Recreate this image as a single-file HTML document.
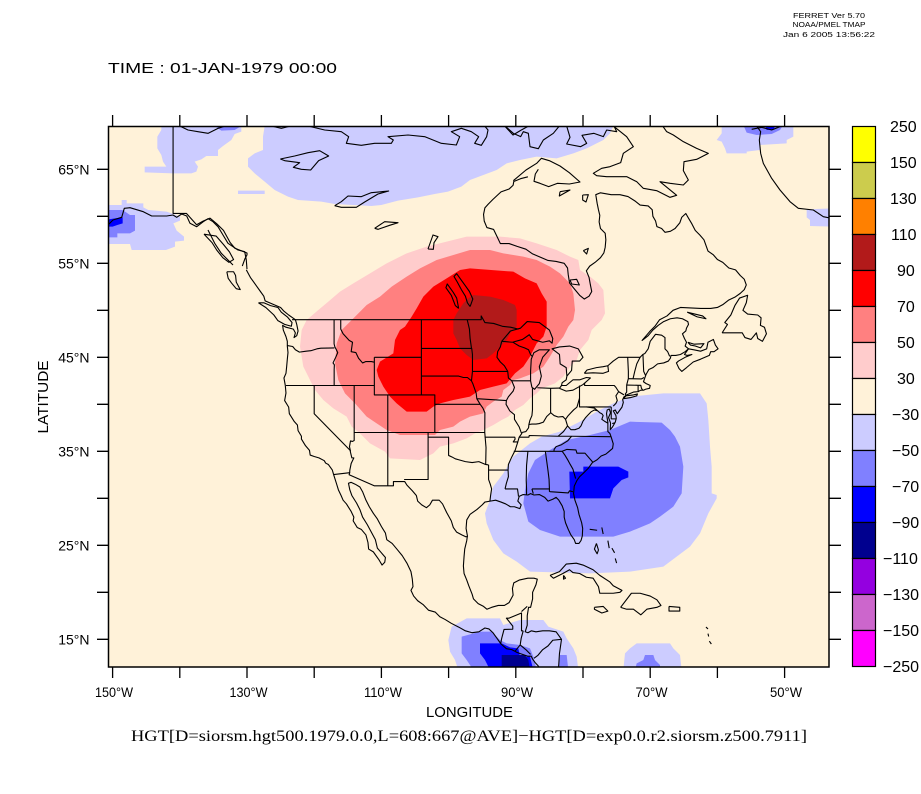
<!DOCTYPE html>
<html><head><meta charset="utf-8"><style>
html,body{margin:0;padding:0;background:#fff;}
svg{display:block;}
.t{font-family:"Liberation Sans",Arial,sans-serif;fill:#000;}
.c{fill:none;stroke:#000;stroke-width:1.1;vector-effect:non-scaling-stroke;stroke-linejoin:round;}
</style></head><body>
<svg width="921" height="794" viewBox="0 0 921 794" xmlns="http://www.w3.org/2000/svg">
<defs><clipPath id="mc"><rect x="108.5" y="126.5" width="720.5" height="540.5"/></clipPath></defs>
<rect width="921" height="794" fill="#fff"/>

<text class="t" x="829" y="18" font-size="7.5" text-anchor="middle" textLength="72" lengthAdjust="spacingAndGlyphs">FERRET Ver  5.70</text>
<text class="t" x="829" y="27" font-size="7.5" text-anchor="middle" textLength="73" lengthAdjust="spacingAndGlyphs">NOAA/PMEL TMAP</text>
<text class="t" x="829" y="37" font-size="7.5" text-anchor="middle" textLength="92" lengthAdjust="spacingAndGlyphs">Jan  6 2005 13:56:22</text>

<text class="t" x="108" y="73" font-size="15" textLength="229" lengthAdjust="spacingAndGlyphs">TIME : 01-JAN-1979 00:00</text>

<g clip-path="url(#mc)">
<rect x="108" y="126" width="722" height="542" fill="#FFF2D9"/>

<!-- positive anomaly -->
<g transform="translate(280 230) scale(0.333333)">
<polygon fill="#FFCCCC" points="560,20 660,20 720,25 770,40 830,60 870,80 895,90 900,120 930,140 955,160 970,180 975,250 965,270 935,300 925,330 900,360 890,390 870,410 850,440 825,460 785,475 770,490 750,505 730,525 705,540 685,560 665,570 640,585 610,600 585,610 560,625 520,640 480,650 460,670 420,690 330,685 315,665 270,640 240,610 215,590 200,560 160,535 130,510 105,480 90,450 70,410 60,350 65,300 80,270 115,240 145,215 180,185 220,160 270,130 320,100 380,70 440,50 500,35"/>
<polygon fill="#FF8080" points="570,60 630,60 670,70 730,80 770,90 810,110 840,130 870,160 880,190 885,240 880,270 865,290 850,320 830,345 810,380 790,410 760,430 720,445 700,450 690,465 670,480 665,500 640,515 620,530 610,550 570,560 540,575 520,590 480,600 465,615 360,615 320,600 290,580 260,560 225,520 195,490 175,450 165,400 170,340 185,300 205,280 235,250 260,225 300,200 335,170 380,140 420,115 470,90 520,75"/>
<polygon fill="#FF0000" points="540,120 570,115 700,125 735,145 770,160 785,190 800,215 800,290 790,320 770,340 750,380 730,410 705,430 680,460 640,470 600,480 570,500 520,510 480,520 460,530 440,545 380,545 350,520 330,500 310,470 295,440 290,420 300,395 340,370 345,330 360,300 375,290 395,260 410,235 430,200 460,170 500,145"/>
<polygon fill="#B21A1A" points="580,195 630,200 670,210 705,225 710,240 710,290 690,310 680,330 660,350 640,370 620,385 580,390 560,375 540,355 530,330 520,310 520,270 530,250 550,220 565,205"/>
</g>

<!-- SE negative anomaly -->
<g transform="translate(470 380) scale(0.333333)">
<polygon fill="#CCCCFF" points="580,40 690,40 710,70 715,120 720,200 725,260 725,340 740,345 740,355 715,400 690,460 660,500 620,530 580,560 480,575 360,580 180,575 140,545 100,520 70,480 50,430 45,400 60,360 70,320 100,280 130,230 180,190 215,170 270,155 330,125 380,95 430,70 480,50 530,45"/>
<polygon fill="#8080FF" points="480,125 575,128 600,150 615,170 630,200 640,260 635,340 610,380 570,410 540,430 480,455 430,470 270,470 210,450 175,425 160,370 165,330 175,280 195,240 240,210 290,180 360,165 420,150"/>
<polygon fill="#0000FF" points="340,260 445,260 475,275 475,292 455,300 430,325 420,355 300,355 298,275 340,275"/>
</g>

<!-- bottom blobs -->
<g transform="translate(420 560) scale(0.333333)">
<polygon fill="#CCCCFF" points="140,175 240,175 250,195 300,180 370,180 385,200 430,215 440,235 460,265 470,290 475,330 115,330 105,300 90,275 85,240 95,200"/>
<polygon fill="#8080FF" points="125,230 180,215 215,215 240,240 260,250 300,255 330,265 340,290 350,330 160,330 140,300 125,280"/>
<polygon fill="#8080FF" points="420,285 440,285 445,330 415,330"/>
<polygon fill="#0000FF" points="180,250 245,250 270,262 295,265 300,290 330,290 340,330 210,330 195,300 180,280"/>
<polygon fill="#00008F" points="245,285 315,285 325,300 330,330 245,330"/>
<polygon fill="#CCCCFF" points="650,250 750,250 760,265 780,285 785,330 610,330 615,280 630,265"/>
<polygon fill="#8080FF" points="675,285 700,285 705,300 720,315 720,330 645,330 650,310 670,300"/>
</g>

<!-- north blobs -->
<g transform="translate(108 120) scale(0.333333)">
<polygon fill="#CCCCFF" points="160,18 400,18 400,35 380,42 370,60 345,78 330,90 330,108 295,108 280,118 260,125 270,140 265,155 250,160 195,160 110,157 110,140 175,140 165,125 160,105 148,85 148,50 160,30"/>
<polygon fill="#CCCCFF" points="470,18 1516,18 1506,40 1486,60 1436,85 1396,100 1346,115 1286,110 1236,120 1196,130 1166,150 1126,165 1086,180 1060,200 1020,215 980,222 930,232 870,242 820,255 790,258 680,252 640,245 570,240 540,230 500,210 470,185 440,160 420,140 420,115 440,100 465,90 465,50"/>
<polygon fill="#CCCCFF" points="390,212 470,212 470,222 390,222"/>
<polygon fill="#8080FF" points="320,18 400,18 380,30 340,32"/>
</g>
<g transform="translate(30 110) scale(0.333333)">
<polygon fill="#CCCCFF" points="225,285 275,285 275,270 290,270 290,280 340,280 340,292 355,300 410,305 450,320 450,332 430,340 440,362 462,380 462,392 435,395 435,410 408,420 305,420 300,402 225,402"/>
<polygon fill="#8080FF" points="225,300 278,300 300,315 315,315 315,362 300,370 262,370 262,382 225,382"/>
<polygon fill="#0000FF" points="225,330 255,325 278,322 278,340 262,345 248,350 225,350"/>
</g>
<g transform="translate(470 120) scale(0.333333)">
<polygon fill="#CCCCFF" points="755,15 970,15 970,50 950,60 950,70 870,75 870,90 830,95 830,100 770,100 765,85 755,65 740,60 755,40"/>
<polygon fill="#8080FF" points="820,15 940,15 930,30 905,42 860,45 830,38"/>
<polygon fill="#0000FF" points="885,15 915,15 912,28 890,30"/>
<polygon fill="#CCCCFF" points="1010,268 1090,265 1090,320 1020,318 1020,300 1010,292"/>
</g>

<!-- coastlines in pixel coords -->
<polyline class="c" points="108,225 113,220 121.7,217.3 124.3,208.3 130,207.7 143.3,211.7 151.7,216 166.7,216 173,215 176.7,217.3 181.7,214 186.7,216 190,223.3 196.7,226.7 203.3,221.7 208,218.7 213,221.7 218,226.7 223,235 228,243.3 233,246.7 238,250 244.7,251.7 246.3,260 247,269.2"/>
<polyline class="c" points="208,230 214.7,243.3 221.3,253.3 233,265"/>
<g transform="translate(108 120) scale(0.333333)">
<polyline class="c" points="215,18 240,30 270,35 300,40 330,25 352,18"/>
<polyline class="c" points="490,18 520,25 548,18"/>
<polyline class="c" points="600,18 650,30 700,35 722,50 715,70 760,76 800,70 850,70 856,60 840,50 900,45 950,50 1000,70 1045,75 1055,50 1030,35 1060,25 1090,35 1112,50 1100,70 1120,76 1136,50 1140,30 1130,18"/>
<polyline class="c" points="1190,18 1215,45 1240,30 1262,18"/>
<polyline class="c" points="517,117 560,108 600,98 635,92 662,108 632,122 608,150 580,148 556,142 575,128 530,122 517,117"/>
<polyline class="c" points="680,257 700,245 720,228 760,230 790,218 842,213 810,222 770,246 745,262 700,262 680,257"/>
<polyline class="c" points="800,325 830,305 870,308 845,316 810,328 800,325"/>
<polyline class="c" points="960,387 975,345 990,350 978,368 976,388 960,387"/>
</g>
<g transform="translate(470 120) scale(0.333333)">
<polyline class="c" points="430,18 470,50 490,80 460,100 452,128 420,140 395,145 370,160 380,167 410,170 470,170 500,185 520,205 560,212 600,232 620,226 570,185 600,190 640,195 655,180 640,152 642,125 680,118 715,100 680,85 640,65 610,45 590,35 578,18"/>
<polyline class="c" points="105,18 130,40 152,50 160,35 175,40 180,80 205,86 220,60 250,40 268,18"/>
<polyline class="c" points="290,18 300,52 290,72 332,80 350,70 336,46 372,40 400,50 410,30 440,35 432,18"/>
<polyline class="c" points="130,182 168,150 200,130 214,115 238,122 270,138 298,158 330,186 298,192 262,190 236,200 210,190 192,184 196,162 205,148"/>
<polyline class="c" points="270,215 300,210 268,228 270,215"/>
<polyline class="c" points="338,225 355,224 348,246 338,240 338,225"/>
<polyline class="c" points="340,392 355,385 350,402 340,392"/>
<polyline class="c" points="300,480 320,478 328,495 305,492 300,480"/>
<polyline class="c" points="858,15 872,35 868,60 870,80 872,100 880,130 905,175 930,210 960,245 985,265 1030,270 1060,290 1090,296"/>
<polyline class="c" points="845,28 875,22 905,30 935,18"/>
</g>

<!-- coastlines / borders in lon,lat -->
<g transform="matrix(6.72 0 0 -9.4 1120.6 780.3)">
<polyline class="c" points="-130.1,54.3 -129.5,53.5 -129,53 -128.5,52.5 -128,52 -127.5,51.5 -127.3,51 -126,50.6 -125,50.3 -124.5,49.9 -123.8,49.5 -123.2,49.2 -122.8,49 -122.6,48.5 -122.4,47.8 -122.6,47.3 -123,47.1 -122.8,47.6 -123.1,48 -124.2,48.2 -124.7,48.4 -124.6,47.9 -124.2,47.2 -124,46.7 -124,46.2 -123.9,45.5 -124,44.8 -124.1,44 -124.2,43.3 -124.5,42.8 -124.3,42 -124.2,41.2 -124.4,40.4 -123.8,39.7 -123.7,39 -123,38.2 -122.5,37.8 -122.4,37.2 -121.9,36.6 -121.9,36.3 -121.3,35.6 -120.7,35.1 -120.6,34.6 -120,34.45 -119.3,34.3 -118.5,34 -118.3,33.75 -117.9,33.6 -117.3,33 -117.1,32.5 -116.7,31.6 -116.4,30.9 -116,30.3 -115.7,29.8 -115.2,29.4 -114.5,28.6 -114.1,28 -114.2,27.6 -113.6,26.9 -113,26.7 -112.3,26.1 -112,25.3 -111.9,24.6 -111.2,24.3 -110.4,23.5 -109.9,22.9 -109.5,23.2 -109.4,23.7 -110,24.2 -110.6,24.7 -110.9,25.6 -111.5,26.4 -112.1,27.2 -112.8,28 -113.2,28.8 -113.7,29.5 -114.4,30.3 -114.7,30.9 -114.9,31.6 -114.5,31.7 -113.9,31.5 -113.2,31.2 -112.8,30.7 -112.3,29.8 -111.8,29.1 -111.2,28.4 -110.6,27.8 -110,27 -109.4,26.3 -109.2,25.6 -108.4,25.2 -107.7,24.6 -106.9,23.9 -106.2,23.1 -105.6,22.2 -105.4,21.4 -105.3,20.6 -105.6,20.2 -105.2,19.6 -104.6,19.1 -103.8,18.7 -103,18.1 -102,17.9 -101.3,17.4 -100.5,17.1 -99.6,16.7 -98.5,16.3 -97.5,15.9 -96.5,15.7 -95.5,15.8 -94.6,16.2 -94,16.1 -93.4,15.7 -92.8,15.1 -92.2,14.5 -91.4,14 -90.6,13.9 -89.8,13.6 -89,13.4 -88.2,13.2 -87.7,13.2 -87.5,12.9 -87.1,12.5 -86.7,12.2 -86.2,11.7"/>
<polyline class="c" points="-83.7,11.5 -83.6,12.4 -83.5,13.5 -83.3,14.5 -83.2,15 -84,15.8 -85,15.9 -86,15.9 -87,15.8 -87.7,15.9 -88.2,15.7 -88.6,15.8 -88.3,16.5 -88.3,17.5 -88.1,18.4 -87.8,18.4 -87.5,19.3 -87.5,20 -87,20.8 -86.8,21.4 -87.3,21.5 -88.2,21.5 -89.5,21.3 -90.3,21 -90.5,20.4 -90.4,19.7 -91,18.9 -91.7,18.6 -92.6,18.6 -93.6,18.4 -94.3,18.2 -94.8,18.5 -95.6,18.8 -96.3,19.3 -96.5,19.8 -97,20.7 -97.3,21.3 -97.7,22 -97.8,22.8 -97.7,23.8 -97.6,24.6 -97.3,25.5 -97.2,26 -97.4,26.8 -97.3,27.7 -96.8,28.3 -95.8,28.8 -95,29.3 -94.6,29.6 -93.8,29.7 -93,29.8 -92.2,29.6 -91.5,29.4 -90.8,29.1 -90.2,29.1 -89.4,28.9 -89.2,29.3 -89.7,29.7 -89.5,30.2 -88.9,30.4 -88.2,30.35 -87.8,30.5 -87.3,30.35 -86.5,30.4 -85.7,30.1 -85.2,29.7 -84.5,29.9 -84,30.1 -83.6,29.8 -83.1,29.2 -82.8,28.6 -82.8,28 -82.6,27.4 -82.2,26.7 -81.8,26.1 -81.3,25.6 -81.1,25.2 -80.6,25.2 -80.3,25.5 -80.1,26 -80.05,26.8 -80.2,27.4 -80.6,28.3 -80.8,29 -81.2,29.8 -81.4,30.5 -81.3,31.3 -80.9,31.9 -80.5,32.3 -79.9,32.7 -79.2,33.2 -78.6,33.8 -77.9,34.1 -77.3,34.5 -76.6,34.7 -76.1,35 -75.6,35.3 -75.5,35.8 -75.8,36.5 -76,36.9 -76.3,37.1 -76.3,37.6 -76.3,38.1 -76.4,38.5 -76.5,39 -76.4,39.4 -76.1,39.5 -75.9,39.1 -76.2,38.6 -75.9,38 -75.95,37.3 -75.6,37.6 -75.2,38.1 -75.05,38.5 -75.1,38.8 -75.5,39.3 -75.2,39.4 -74.9,39 -74.6,39.3 -74.2,39.7 -74,40.2 -74.1,40.5 -73.9,40.8 -73.5,41 -72.5,41.3 -71.8,41.35 -71.4,41.5 -71,41.5 -70.7,41.6 -70.1,41.7 -70,42 -70.3,42.1 -70.6,42.2 -71,42.4 -70.8,42.8 -70.6,43.2 -70.2,43.7 -69.6,43.9 -68.9,44.3 -68,44.4 -67.3,44.6 -67,44.9 -66.9,45.2 -66.2,45.2 -65.5,45.3 -64.8,45.6 -64.3,45.9 -64.8,46.2 -64.6,46.6 -64.9,47 -65.2,47.5 -64.7,47.8 -64.6,48.1 -64.3,48.5 -64.4,48.8 -65.2,49.1 -66,49.2 -67,49.1 -68,48.8 -68.8,48.4 -69.6,47.9 -70.3,47.3 -71,46.9 -71.2,46.8 -70.6,47.3 -70,47.8 -69.3,48.3 -68.6,49 -67.5,49.4 -66.6,50 -65.5,50.3 -64,50.25 -62.5,50.2 -61,50.2 -60,50.3 -59.2,50.6 -58.3,51.1 -57.4,51.4 -56.6,51.8 -56,52.2 -55.7,52.7 -56,53.3 -56.6,53.7 -57.3,54.3 -58.3,54.5 -59.2,55.1 -60,55.4 -60.6,55.9 -61.4,56.3 -61.7,56.9 -62,57.5 -62.6,58 -63.3,58.5 -63.8,59.2 -64.3,59.8 -64.7,60.3 -65.3,59.9 -65.6,59.3 -66.3,58.7 -67,58.4 -67.8,58.3 -68.3,58.7 -69,58.9 -69.2,59.5 -69.6,60 -69.7,60.7 -70.3,61.1 -71.5,61.2 -72.2,61.6 -73.3,62.1 -74.5,62.3 -75.8,62.3 -77.4,62.5 -78.1,62.3 -77.9,61.4 -77.7,60.7 -77.5,60.1 -77.6,59.4 -77.4,58.7 -76.7,58.2 -76.6,57.5 -76.7,56.7 -76.9,56.1 -77.4,55.6 -78.2,55.1 -79,54.7 -79.5,54.2 -79.1,53.5 -78.9,52.7 -78.7,52 -79.1,51.5 -79.8,51.2 -80.5,51.6 -81.2,52.2 -82,52.9 -82.2,53.8 -82.3,54.5 -82.8,55 -84,55.2 -85.2,55.3 -86.5,55.7 -87.5,56 -88.5,56.5 -89.8,56.8 -91,57.1 -92.3,57.1 -92.7,57.7 -93.3,58.6 -94.3,58.8 -94.7,59.5 -94.8,60.2 -94.6,60.9 -94.1,61.3 -93.4,61.8 -92.8,62.2 -92.2,62.6 -91,62.9 -90.4,63.3 -90.3,63.7 -89.3,64 -88.2,64.2"/>
<polyline class="c" points="-128.3,50.8 -127.2,50.3 -126,49.5 -125.4,48.9 -124.4,48.5 -123.4,48.3 -123.3,48.7 -124,49.3 -124.9,49.8 -125.4,50.3 -126.5,50.5 -127.5,50.8 -128.3,50.8"/>
<polyline class="c" points="-133,54.1 -132,54.1 -131.7,53.7 -131.6,53 -131,52.2 -131.6,52.3 -132.3,52.9 -132.8,53.4 -133,54.1"/>
<polyline class="c" points="-136.4,58.1 -135.2,57.2 -134.5,56.4 -133.6,55.6 -132.7,55.1 -132,55.4 -132.6,56.2 -133.5,57 -134.6,57.9 -136.4,58.1"/>
<polyline class="c" points="-59.3,47.6 -58.5,48.5 -58.9,48.7 -58,49.5 -57.4,50.5 -56.7,51.3 -55.5,51.6 -55.7,50.8 -56.2,50 -55.5,49.6 -54,49.5 -53.5,49.2 -53.6,48.4 -53,48.2 -52.7,47.5 -53.3,46.7 -54,47 -54.2,47.6 -55,46.9 -55.9,47.1 -56.3,47.6 -57.5,47.6 -58.4,47.6 -59.3,47.6"/>
<polyline class="c" points="-64.4,46.6 -63.5,46.4 -62,46.45 -62.5,46 -63.3,46.2 -64,46.3 -64.4,46.6"/>
<polyline class="c" points="-64.3,45.9 -64.9,45.3 -64.5,45.2 -63.8,45.3 -64.8,45 -65.8,44.6 -66.1,44.4 -65.7,43.8 -65.3,43.5 -64.6,43.9 -63.6,44.5 -62.5,44.8 -61.2,45.2 -61,45.6 -60.5,45.6 -59.9,45.9 -60.3,46.3 -60.6,46.9 -61.4,46.6 -61.6,45.9 -62.5,45.65 -63.5,45.8 -64.3,45.9"/>
<polyline class="c" points="-64.5,49.8 -62.2,49.4 -61.7,49.1 -63,49.3 -64.5,49.8"/>
<polyline class="c" points="-84.9,21.8 -83.5,22.2 -82.5,23 -81,23.1 -80,22.9 -78.5,22.4 -77.5,21.8 -76,21.1 -75.5,20.7 -74.2,20.2 -74.5,20 -75.5,19.9 -77.5,19.9 -77.7,20.6 -78.5,21.5 -79.5,21.6 -80.5,22 -81.5,22.1 -82,22.4 -83,22 -84.4,21.5 -84.9,21.8"/>
<polyline class="c" points="-82.9,21.8 -82.6,21.5 -82.9,21.4 -82.9,21.8"/>
<polyline class="c" points="-74.4,18.4 -72.8,19.9 -71.5,19.9 -70,19.6 -69,19.2 -68.4,18.6 -69,18.4 -70.5,18.2 -71.4,17.6 -72.5,18.2 -73.5,18.2 -74.4,18.4"/>
<polyline class="c" points="-78.3,18.4 -77,18.5 -76.3,18 -77.2,17.8 -78.3,18.2 -78.3,18.4"/>
<polyline class="c" points="-67.2,18.5 -65.6,18.4 -65.6,18 -67.2,18 -67.2,18.5"/>
<polyline class="c" points="-78,25.2 -77.7,24.5 -77.9,24.1 -78.3,24.6 -78,25.2"/>
<polyline class="c" points="-79,26.7 -77.9,26.6"/>
<polyline class="c" points="-77.2,26.9 -77,26.2"/>
<polyline class="c" points="-76.3,25.5 -76.1,24.7"/>
<polyline class="c" points="-75.7,24.7 -75.3,24.2"/>
<polyline class="c" points="-75.2,23.6 -75,23.1"/>
<polyline class="c" points="-61.7,16.3 -61.4,16.1"/>
<polyline class="c" points="-61.4,15.6 -61.3,15.3"/>
<polyline class="c" points="-61.2,14.8 -60.9,14.5"/>
<!-- Great Lakes -->
<polyline class="c" points="-92.1,46.7 -90.5,46.6 -89,46.9 -88,47.4 -87.5,46.9 -86,46.6 -85,46.75 -84.6,46.5 -84.5,47 -85,47.9 -86.5,48.7 -88.3,48.8 -89.3,48.1 -90.8,47.8 -92.1,46.7"/>
<polyline class="c" points="-87.6,41.8 -87.2,41.6 -86.5,42.2 -86.2,43 -86.5,44 -86,45 -85,45.8 -86.5,45.8 -87.3,45.5 -87.7,44.8 -87.8,43.5 -87.8,42.5 -87.6,41.8"/>
<polyline class="c" points="-82.4,43 -81.7,43.6 -81.6,44.6 -80.5,44.6 -80,45 -80.7,45.9 -82,46.2 -83.5,46.1 -84.6,45.9 -83.5,45.3 -83.4,44.3 -82.5,43.9 -82.4,43"/>
<polyline class="c" points="-83.5,41.7 -82.5,41.4 -81.5,41.5 -80,42.1 -78.9,42.8 -79.5,42.85 -80.5,42.6 -81.5,42.6 -82.5,42 -83.2,42 -83.5,41.7"/>
<polyline class="c" points="-79.8,43.3 -78.5,43.35 -77,43.3 -76.2,43.5 -76.3,44.1 -77,44 -78,43.9 -79.4,43.65 -79.8,43.3"/>
<polyline class="c" points="-82.4,43 -82.5,42.6 -83.1,42.3 -83.2,42"/>
<polyline class="c" points="-96.8,50.4 -96.4,51.2 -96.9,52 -97.5,52.6 -98.2,53.3 -98.8,53.9 -99.2,53.6 -98.7,53 -98.1,52.2 -97.5,51.5 -97.2,50.8 -96.8,50.4"/>
<polyline class="c" points="-98.5,50.2 -98.8,51.3 -99.3,51.9 -100.2,52.8 -100.4,52.4 -99.6,51.6 -99,50.5 -98.5,50.2"/>
<!-- borders -->
<polyline class="c" points="-141,70 -141,60.3 -139,60.3 -137.5,59.1 -136.5,59.5 -135.5,59.8 -134.5,59.2 -133.5,58.5 -132.5,57.2 -131.8,56.6 -130,56.1 -130,55.9 -130.3,55.5 -130.7,54.7"/>
<polyline class="c" points="-123.3,49 -95.15,49 -95.15,49.4 -94.6,48.7 -93.3,48.6 -92,48.3 -90.8,48.2 -89.6,48"/>
<polyline class="c" points="-76.3,44.1 -75.5,44.6 -74.7,45 -71.5,45 -71.1,45.3 -70.8,45.4 -70.3,45.9 -70,46.7 -69.2,47.45 -68.3,47.35 -67.8,47.1 -67.8,45.9 -67.4,45.6 -67.1,45.1"/>
<polyline class="c" points="-124,46.25 -123.2,46.15 -122.8,45.8 -122.2,45.55 -121.2,45.65 -120.5,45.7 -119.6,45.9 -119,45.97 -117,46"/>
<polyline class="c" points="-117.04,49 -117.04,46.43 -116.92,46.1 -116.7,45.8 -116.5,45.5 -116.8,45 -117.2,44.4 -117,44.2 -117.03,43.7 -117.03,42"/>
<polyline class="c" points="-124.2,42 -111.05,42"/>
<polyline class="c" points="-120,42 -120,39 -114.65,35.1 -114.6,34.9 -114.4,34.3 -114.1,34.3 -114.5,33.7 -114.7,33 -114.72,32.72"/>
<polyline class="c" points="-117.12,32.53 -114.72,32.72 -114.8,32.5 -111.07,31.33 -108.21,31.33 -108.21,31.78 -106.53,31.78 -106.2,31.4 -105.4,30.8 -104.8,30.3 -104.6,29.7 -104,29.3 -103.3,29 -102.8,29.3 -102.4,29.8 -101.4,29.8 -100.9,29.4 -100.3,28.5 -99.6,27.6 -99.3,26.9 -98.8,26.4 -98,26.1 -97.4,25.9 -97.15,25.95"/>
<polyline class="c" points="-114.05,42 -114.05,37 -114.05,36.15 -114.3,36.05 -114.6,36.1 -114.75,35.5 -114.6,35"/>
<polyline class="c" points="-114.05,37 -94.62,37"/>
<polyline class="c" points="-116.05,49 -116.05,48 -115.7,47.5 -114.8,46.8 -114.3,46.6 -114.5,45.6 -113.8,45.5 -113.4,44.9 -112.8,44.4 -112.3,44.55 -111.5,44.55 -111.05,44.48"/>
<polyline class="c" points="-111.05,45 -111.05,41 -102.05,41 -102.05,37"/>
<polyline class="c" points="-111.05,45 -104.05,45"/>
<polyline class="c" points="-109.05,41 -109.05,31.33"/>
<polyline class="c" points="-104.05,49 -104.05,41"/>
<polyline class="c" points="-104.05,45.94 -96.56,45.94"/>
<polyline class="c" points="-104.05,43 -98.5,43 -97.8,42.85 -97.2,42.85 -96.6,42.5"/>
<polyline class="c" points="-102.05,40 -95.3,40"/>
<polyline class="c" points="-103.05,37 -103.05,32 -106.62,32"/>
<polyline class="c" points="-103.05,36.5 -100,36.5 -100,34.56 -99.5,34.4 -99,34.2 -98.5,34.1 -97.5,33.9 -96.5,33.8 -95.5,33.9 -94.5,33.6 -94.05,33.55"/>
<polyline class="c" points="-94.62,37 -94.43,35.4 -94.48,33.64"/>
<polyline class="c" points="-94.05,33.55 -94.05,32 -93.8,31.5 -93.6,31 -93.75,30.3 -93.85,29.7"/>
<polyline class="c" points="-94.62,36.5 -90.15,36.5 -90.1,36.3 -90.38,36 -89.7,36"/>
<polyline class="c" points="-94.05,33 -91.15,33"/>
<polyline class="c" points="-92.1,46.7 -92.3,46.1 -92.7,45.6 -92.8,45 -92.3,44.5 -91.7,44.1 -91.2,43.5 -91.1,42.8 -90.6,42.5 -90.2,41.8 -90.4,41.4 -91.1,40.8 -91.4,40.4 -91.45,40 -90.9,39.3 -90.2,38.9 -90.2,38.4 -89.5,37.6 -89.2,37 -89.1,36.9 -89.5,36.5 -89.7,36 -90.1,35.1 -90.6,34.4 -91.1,33.6 -91.15,33 -91.1,32.3 -91.4,31.6 -91.6,31"/>
<polyline class="c" points="-97.23,49 -96.9,48 -96.8,47 -96.6,46 -96.56,45.94 -96.45,45.3 -96.45,43.5 -91.2,43.5"/>
<polyline class="c" points="-96.45,43.5 -96.6,42.5 -96.4,42.2 -96.1,41.6 -95.9,41.2 -95.8,40.6 -91.4,40.4"/>
<polyline class="c" points="-95.8,40.6 -95.3,40 -94.9,39.6 -94.6,39.1 -94.62,37"/>
<polyline class="c" points="-90.6,42.5 -87.8,42.5"/>
<polyline class="c" points="-87.6,45.1 -87.8,45.3 -88.1,45.8 -88.7,46 -89.5,46.2 -90.2,46.5 -90.4,46.6"/>
<polyline class="c" points="-87.52,41.7 -87.52,39.4 -87.6,38.8 -87.9,38.3 -88.05,37.85"/>
<polyline class="c" points="-89.1,37 -88.5,37.1 -88.1,37.5 -88.05,37.85 -87.6,37.9 -87,37.9 -86.5,37.95 -85.9,38.1 -85.4,38.7 -84.8,39.1 -84.3,38.8 -83.7,38.65 -83,38.7 -82.6,38.4 -82.2,38.8 -81.8,39.1 -81.4,39.4 -80.9,39.7 -80.52,40.64"/>
<polyline class="c" points="-84.82,41.7 -84.82,39.1"/>
<polyline class="c" points="-86.8,41.76 -84.8,41.7 -83.45,41.73"/>
<polyline class="c" points="-80.52,42 -80.52,39.72 -75.8,39.72"/>
<polyline class="c" points="-82.6,38.4 -82.3,37.7 -81.8,37.3 -81.2,37.3 -80.6,37.45 -80.3,37.7 -80,38.2 -79.6,38.6 -79.2,38.9 -78.8,39.2 -78.3,39.4 -77.8,39.3 -78.3,39.6 -79.5,39.72"/>
<polyline class="c" points="-82.3,37.7 -82.9,37.1 -83.7,36.6"/>
<polyline class="c" points="-89.5,36.5 -88.05,36.5 -88,36.68 -83.7,36.6 -81.7,36.6 -75.9,36.55"/>
<polyline class="c" points="-81.7,36.6 -82.3,36.1 -83.2,35.7 -84,35.5 -84.3,35.2 -84.32,35"/>
<polyline class="c" points="-90.3,35 -83.1,35"/>
<polyline class="c" points="-83.1,35 -82.4,35.2 -81.05,35.15 -80.9,34.8 -79.7,34.8 -78.55,33.85"/>
<polyline class="c" points="-83.1,35 -82.7,34.6 -82.2,34 -81.9,33.6 -81.5,33.1 -81.1,32.1"/>
<polyline class="c" points="-85.6,35 -85.2,32.9 -85.05,32 -85,31"/>
<polyline class="c" points="-87.6,31 -85,31 -85,30.75 -84.9,30.7 -82.2,30.57 -82,30.8 -81.5,30.7"/>
<polyline class="c" points="-87.6,31 -87.4,30.5"/>
<polyline class="c" points="-88.2,35 -88.4,33.5 -88.45,31.9 -88.4,31 -88.4,30.4"/>
<polyline class="c" points="-91.6,31 -89.75,31 -89.65,30.5 -89.6,30.2"/>
<polyline class="c" points="-77.8,39.3 -77.5,39.1 -77.2,39 -77,38.8 -77.2,38.4 -76.8,38.2 -76.3,38"/>
<polyline class="c" points="-75.8,39.72 -75.8,38.45 -75.05,38.45"/>
<polyline class="c" points="-75.65,37.95 -75.25,38.03"/>
<polyline class="c" points="-79.76,42.27 -79.76,42 -75.35,42 -75.1,41.8 -74.7,41.35 -73.9,41"/>
<polyline class="c" points="-74.7,41.35 -75.1,40.9 -74.9,40.4 -75.1,40.1 -75.5,39.8"/>
<polyline class="c" points="-73.35,45 -73.25,43.5 -73.25,42.75 -73.5,42.05 -73.5,41.3 -73.7,41.1 -73.65,40.95"/>
<polyline class="c" points="-72.55,42.73 -72.3,43.5 -72,44.3 -71.5,45.01"/>
<polyline class="c" points="-73.25,42.73 -71.3,42.7 -70.9,42.85"/>
<polyline class="c" points="-70.7,43.08 -70.97,43.5 -71.08,45.3"/>
<polyline class="c" points="-73.5,42.05 -71.8,42.02 -71.4,42.02 -71.3,41.7 -71.1,41.5"/>
<polyline class="c" points="-71.8,42.02 -71.8,41.3"/>
<polyline class="c" points="-74,40.6 -73,40.7 -72,40.9 -71.9,41.1 -72.5,41 -73.6,40.9 -74,40.6"/>
<polyline class="c" points="-92.25,14.55 -92.1,15.1 -91.75,16.05 -90.45,16.08 -90.45,16.4 -91.4,17.25 -91,17.25 -89.15,17.8 -89.15,15.9 -88.9,15.9"/>
<polyline class="c" points="-89.15,17.95 -88.3,18.5"/>
<polyline class="c" points="-88.9,15.9 -89.2,15.1 -89.35,14.4 -90.1,13.75"/>
<polyline class="c" points="-89.35,14.4 -88.5,13.9 -87.8,13.4"/>
<polyline class="c" points="-87.3,12.98 -86.7,13.3 -86,13.9 -85.2,14.3 -84.5,14.9 -83.2,15"/>
</g>
</g>

<!-- frame -->
<rect x="108.5" y="126.5" width="720.5" height="540.5" fill="none" stroke="#000" stroke-width="1.5"/>
<path stroke="#000" stroke-width="1.3" fill="none" d="
M112.6 115V126 M179.8 115V126 M247 115V126 M314.2 115V126 M381.4 115V126 M448.6 115V126 M515.8 115V126 M583 115V126 M650.2 115V126 M717.4 115V126 M784.6 115V126
M112.6 667V678 M179.8 667V678 M247 667V678 M314.2 667V678 M381.4 667V678 M448.6 667V678 M515.8 667V678 M583 667V678 M650.2 667V678 M717.4 667V678 M784.6 667V678
M97 169.3H108 M97 216.3H108 M97 263.3H108 M97 310.3H108 M97 357.3H108 M97 404.3H108 M97 451.3H108 M97 498.3H108 M97 545.3H108 M97 592.3H108 M97 639.3H108
M829 169.3H841 M829 216.3H841 M829 263.3H841 M829 310.3H841 M829 357.3H841 M829 404.3H841 M829 451.3H841 M829 498.3H841 M829 545.3H841 M829 592.3H841 M829 639.3H841"/>

<g class="t" font-size="14" text-anchor="end">
<text x="89.5" y="174.5">65°N</text>
<text x="89.5" y="268.5">55°N</text>
<text x="89.5" y="362.5">45°N</text>
<text x="89.5" y="456.5">35°N</text>
<text x="89.5" y="550.5">25°N</text>
<text x="89.5" y="644.5">15°N</text>
</g>
<g class="t" font-size="14" text-anchor="middle">
<text x="114" y="697" textLength="38" lengthAdjust="spacingAndGlyphs">150°W</text>
<text x="248.5" y="697" textLength="38" lengthAdjust="spacingAndGlyphs">130°W</text>
<text x="383" y="697" textLength="38" lengthAdjust="spacingAndGlyphs">110°W</text>
<text x="517" y="697" textLength="32" lengthAdjust="spacingAndGlyphs">90°W</text>
<text x="651.5" y="697" textLength="32" lengthAdjust="spacingAndGlyphs">70°W</text>
<text x="786" y="697" textLength="32" lengthAdjust="spacingAndGlyphs">50°W</text>
</g>
<text class="t" x="469.5" y="717" font-size="15" text-anchor="middle" textLength="87" lengthAdjust="spacingAndGlyphs">LONGITUDE</text>
<text class="t" transform="translate(48 397) rotate(-90)" font-size="15" text-anchor="middle" textLength="73" lengthAdjust="spacingAndGlyphs">LATITUDE</text>

<text x="131" y="741" font-family="'Liberation Serif','Times New Roman',serif" font-size="16" textLength="676" lengthAdjust="spacingAndGlyphs">HGT[D=siorsm.hgt500.1979.0.0,L=608:667@AVE]−HGT[D=exp0.0.r2.siorsm.z500.7911]</text>

<!-- colorbar -->
<g stroke="#000" stroke-width="1.2">
<rect x="852.5" y="126.5" width="23" height="36" fill="#FFFF00"/>
<rect x="852.5" y="162.5" width="23" height="36" fill="#CCCC4D"/>
<rect x="852.5" y="198.5" width="23" height="36" fill="#FF8000"/>
<rect x="852.5" y="234.5" width="23" height="36" fill="#B21A1A"/>
<rect x="852.5" y="270.5" width="23" height="36" fill="#FF0000"/>
<rect x="852.5" y="306.5" width="23" height="36" fill="#FF8080"/>
<rect x="852.5" y="342.5" width="23" height="36" fill="#FFCCCC"/>
<rect x="852.5" y="378.5" width="23" height="36" fill="#FFF2D9"/>
<rect x="852.5" y="414.5" width="23" height="36" fill="#CCCCFF"/>
<rect x="852.5" y="450.5" width="23" height="36" fill="#8080FF"/>
<rect x="852.5" y="486.5" width="23" height="36" fill="#0000FF"/>
<rect x="852.5" y="522.5" width="23" height="36" fill="#00008F"/>
<rect x="852.5" y="558.5" width="23" height="36" fill="#9400E0"/>
<rect x="852.5" y="594.5" width="23" height="36" fill="#CC66CC"/>
<rect x="852.5" y="630.5" width="23" height="36" fill="#FF00FF"/>
</g>
<g class="t" font-size="16">
<text x="890" y="132">250</text>
<text x="890" y="168">150</text>
<text x="890" y="204">130</text>
<text x="891" y="240">110</text>
<text x="897" y="276">90</text>
<text x="897" y="312">70</text>
<text x="897" y="348">50</text>
<text x="897" y="384">30</text>
<text x="892" y="420">−30</text>
<text x="892" y="456">−50</text>
<text x="892" y="492">−70</text>
<text x="892" y="528">−90</text>
<text x="883" y="564">−110</text>
<text x="883" y="600">−130</text>
<text x="883" y="636">−150</text>
<text x="883" y="672">−250</text>
</g>
</svg>
</body></html>
